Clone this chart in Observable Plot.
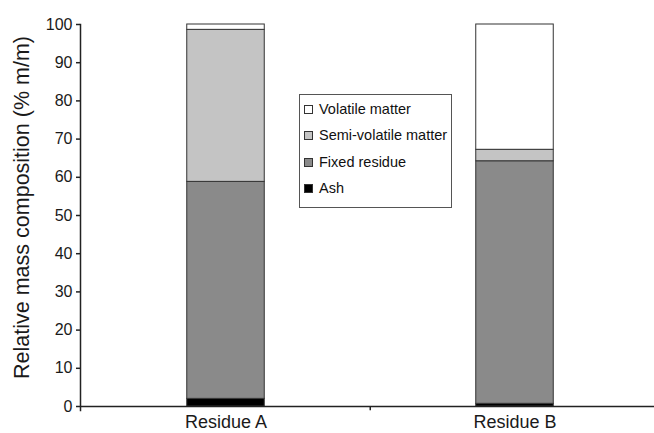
<!DOCTYPE html>
<html>
<head>
<meta charset="utf-8">
<script src="https://cdn.jsdelivr.net/npm/d3@7"></script>
<script src="https://cdn.jsdelivr.net/npm/@observablehq/plot@0.6"></script>
<style>
  html, body { margin: 0; padding: 0; background: #fff; }
  #wrap { position: relative; width: 654px; height: 433px; }
  #legend {
    position: absolute; left: 299px; top: 94px; width: 153px; height: 114px;
    border: 1px solid #555; background: #fff; box-sizing: border-box;
    font-family: "Liberation Sans", Arial, sans-serif; font-size: 14.5px; color: #111;
  }
  #legend .item { position: absolute; left: 4px; height: 16px; line-height: 16px; white-space: nowrap; }
  #legend .sw { display: inline-block; width: 7px; height: 7px; border: 1px solid #333; margin-right: 6px; vertical-align: 0px; }
</style>
</head>
<body>
<div id="wrap"></div>
<script>
const categories = ["Residue A", "Residue B"];
const components = ["Ash", "Fixed residue", "Semi-volatile matter", "Volatile matter"];
const ash = [2.0, 0.7];
const fixedResidue = [56.8, 63.5];
const semiVolatile = [39.8, 3.0];
const volatileMatter = [1.4, 32.8];
const yTicks = [0, 10, 20, 30, 40, 50, 60, 70, 80, 90, 100];
const colors = ["#000000", "#8a8a8a", "#c4c4c4", "#ffffff"];
const legendOrder = ["Volatile matter", "Semi-volatile matter", "Fixed residue", "Ash"];

const series = [ash, fixedResidue, semiVolatile, volatileMatter];
const data = [];
categories.forEach((c, i) => {
  components.forEach((k, j) => data.push({category: c, component: k, value: series[j][i]}));
});

const W = 654, H = 433, mL = 80, mR = -5, mT = 24, mB = 27;
const step = (W - mL - mR) / categories.length;
const barW = 78;
const inset = (step - barW) / 2;

const chart = Plot.plot({
  width: W, height: H,
  marginLeft: mL, marginRight: mR, marginTop: mT, marginBottom: mB,
  style: {fontFamily: "'Liberation Sans', Arial, sans-serif", background: "#fff", color: "#1a1a1a"},
  x: {domain: categories, padding: 0, label: null},
  y: {domain: [0, 100], label: null},
  color: {domain: components, range: colors},
  marks: [
    Plot.barY(data, Plot.stackY({
      x: "category", y: "value", fill: "component", order: components,
      insetLeft: inset, insetRight: inset, stroke: "#333", strokeWidth: 1
    })),
    Plot.ruleY([0], {stroke: "#222", strokeWidth: 1.5}),
    Plot.ruleX([categories[1]], {x: d => d, y1: () => 0, y2: () => -1.1, dx: -step / 2, stroke: "#222", strokeWidth: 1.5}),
    Plot.axisY({ticks: yTicks, tickSize: 4, tickPadding: 4, fontSize: 16, stroke: "#222", strokeWidth: 1.5,
      label: null}),
    Plot.frame({anchor: "left", insetBottom: -4, stroke: "#222", strokeWidth: 1.5}),
    Plot.axisX({tickSize: 0, tickPadding: 9, fontSize: 18, label: null}),
    Plot.text(["Relative mass composition (% m/m)"], {
      frameAnchor: "left", textAnchor: "middle", dx: -58, dy: -8, rotate: -90, fontSize: 21.5, fill: "#1a1a1a", text: d => d
    })
  ]
});

const wrap = document.getElementById("wrap");
wrap.appendChild(chart);

const legend = document.createElement("div");
legend.id = "legend";
legendOrder.forEach((name, i) => {
  const item = document.createElement("div");
  item.className = "item";
  item.style.top = (6 + i * 26.3) + "px";
  const sw = document.createElement("span");
  sw.className = "sw";
  sw.style.background = colors[components.indexOf(name)];
  item.appendChild(sw);
  item.appendChild(document.createTextNode(name));
  legend.appendChild(item);
});
wrap.appendChild(legend);
</script>
</body>
</html>
